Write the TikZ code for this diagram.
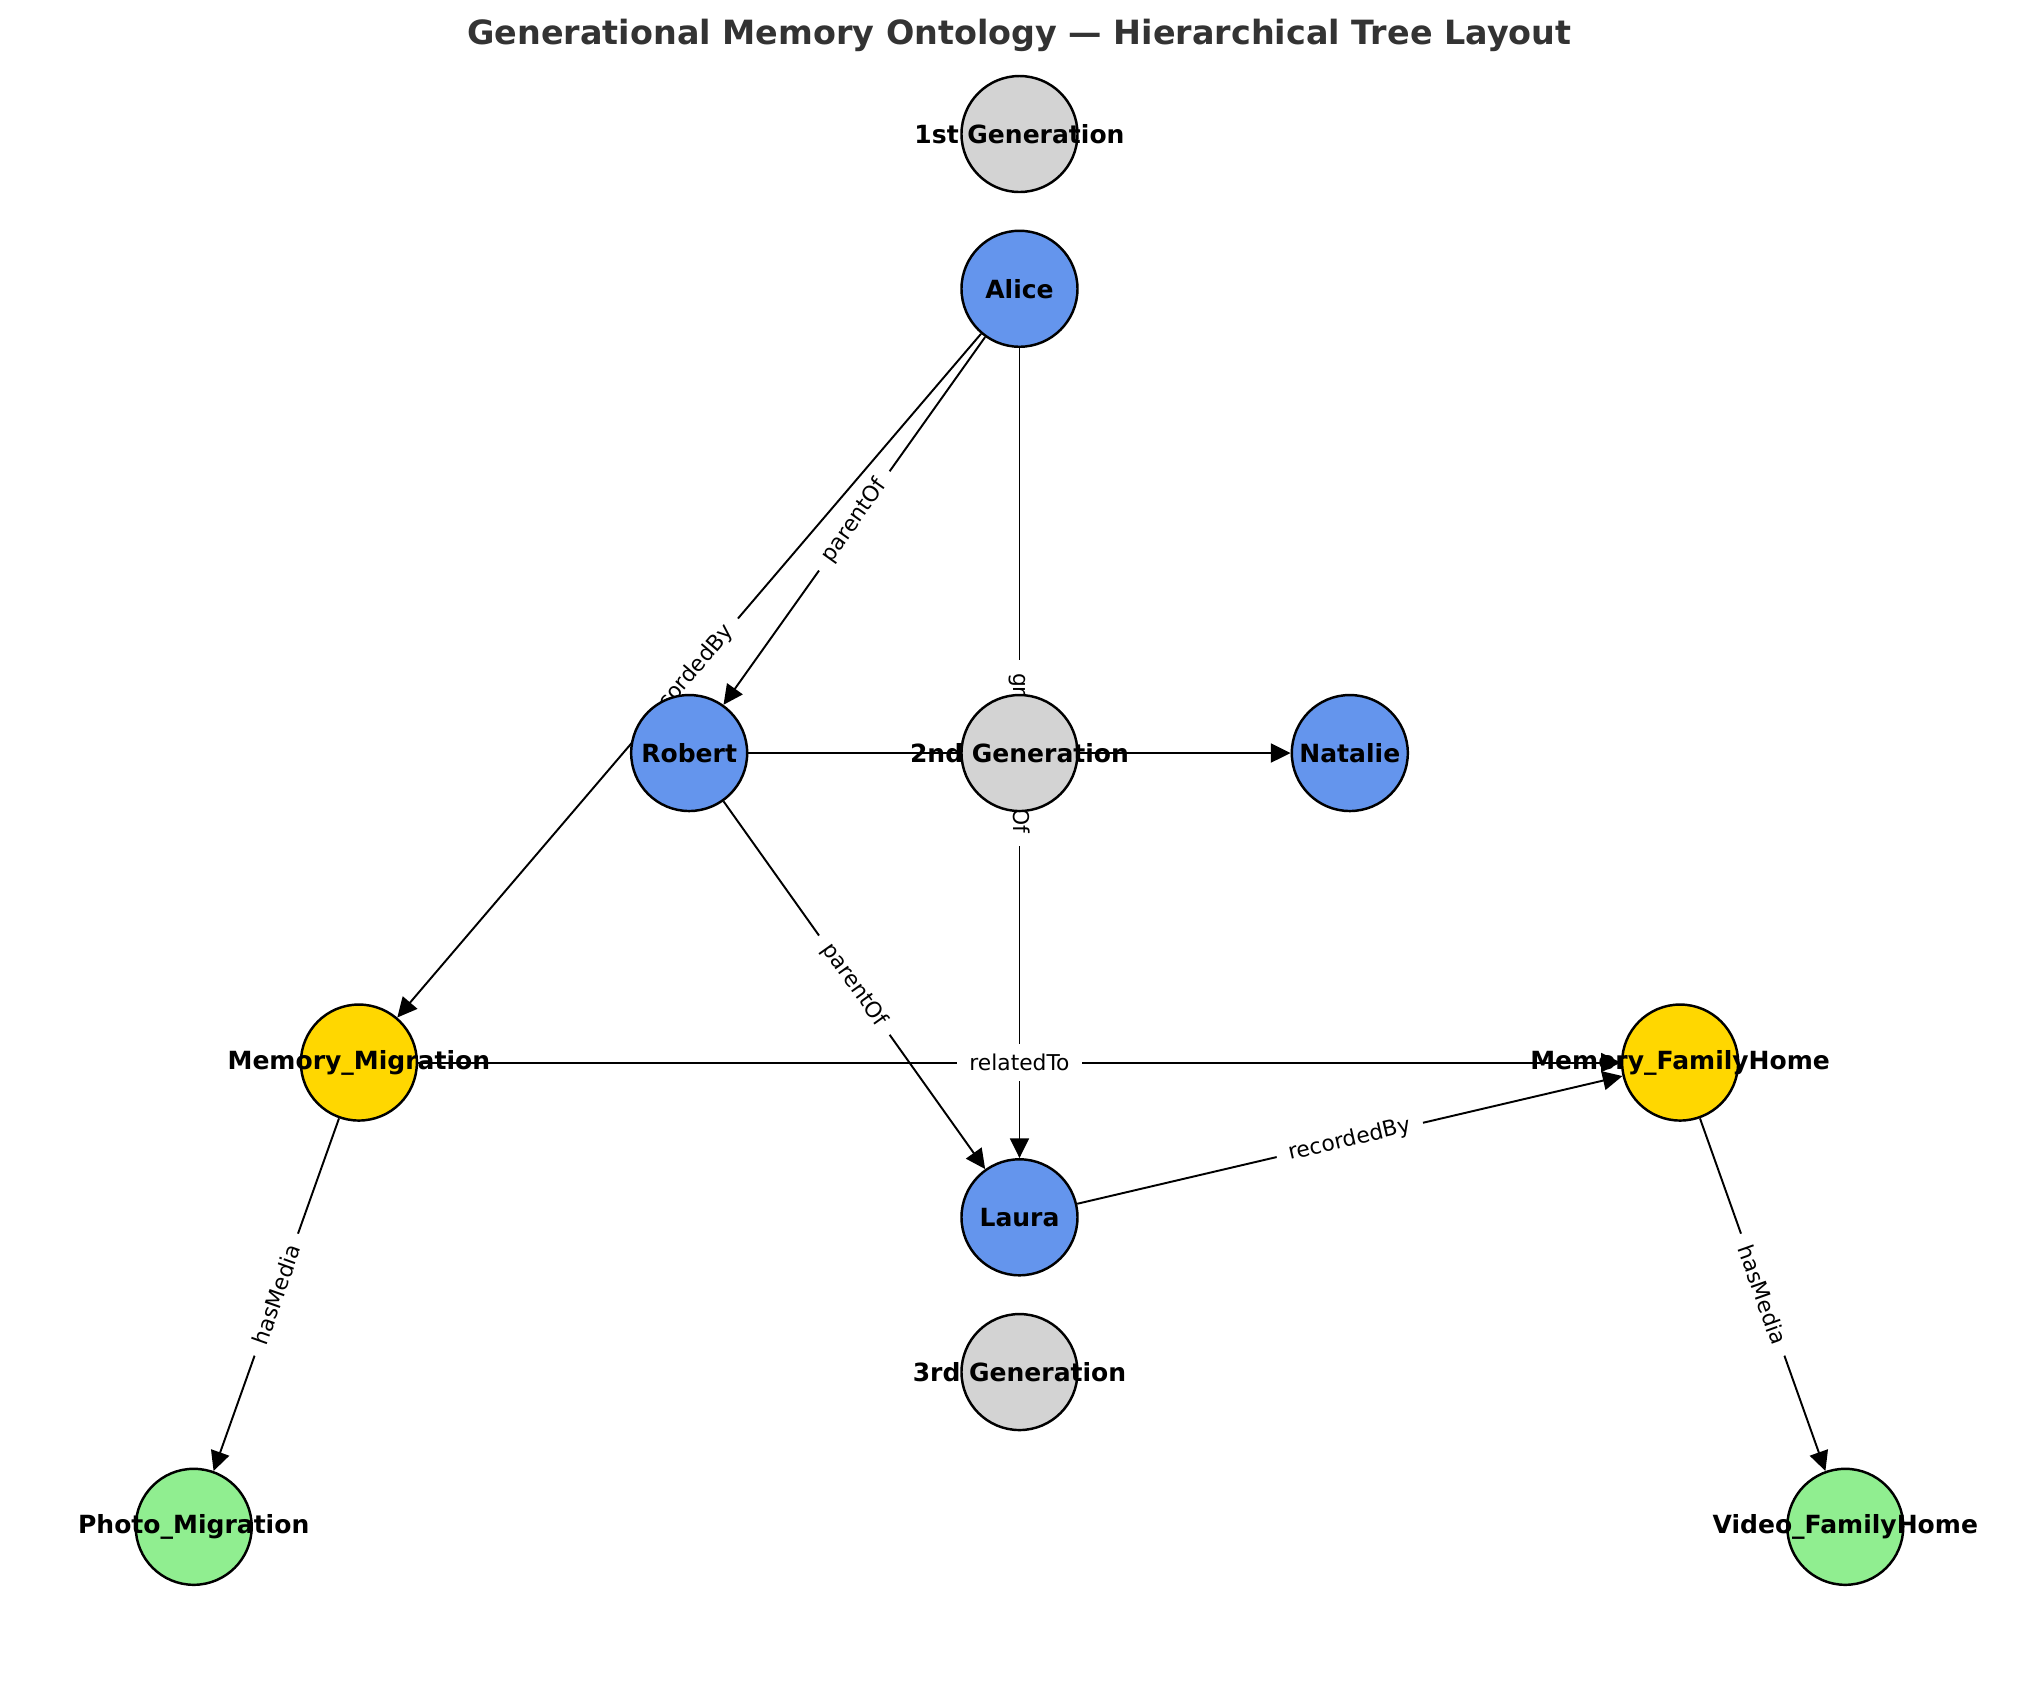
\documentclass[tikz,border=0pt]{standalone}
\usepackage{fontspec}
\usepackage{tikz}
\usetikzlibrary{arrows.meta,backgrounds}
\newfontfamily\dejavu{DejaVu Sans}
\definecolor{pblue}{HTML}{6495ED}
\definecolor{ggray}{HTML}{D3D3D3}
\definecolor{mgold}{HTML}{FFD700}
\definecolor{lgreen}{HTML}{90EE90}
\definecolor{titlegray}{HTML}{333333}

\begin{document}
\begin{tikzpicture}[x=1.6515cm, y=-1.5475cm, vertex/.style={circle,draw=black,line width=0.7pt,minimum size=1.16cm,inner sep=0pt}, person/.style={vertex,fill=pblue}, gen/.style={vertex,fill=ggray}, memory/.style={vertex,fill=mgold}, media/.style={vertex,fill=lgreen}, nlabel/.style={font=\dejavu\bfseries\fontsize{7.12}{8}\selectfont,inner sep=0pt}, edge/.style={-{Triangle[length=5.6pt,width=5.4pt]},line width=0.55pt}, elabel/.style={font=\dejavu\fontsize{6.2}{7}\selectfont,fill=white,inner xsep=3.6pt,inner ysep=2.8pt}]
  \useasboundingbox (-6.173,-0.866) rectangle (6.173,10.003);
  \node[font=\dejavu\bfseries\fontsize{9.5}{11}\selectfont,text=titlegray] (title) at (0,-0.638) {Generational Memory Ontology — Hierarchical Tree Layout};
  \node[gen,label={[nlabel]center:1st Generation}] (gen1) at (0,0) {};
  \node[person,label={[nlabel]center:Alice}] (alice) at (0,1) {};
  \node[person,label={[nlabel]center:Robert}] (robert) at (-2,4) {};
  \node[gen,label={[nlabel]center:2nd Generation}] (gen2) at (0,4) {};
  \node[person,label={[nlabel]center:Natalie}] (natalie) at (2,4) {};
  \node[memory,label={[nlabel]center:Memory\_Migration}] (memmig) at (-4,6) {};
  \node[memory,label={[nlabel]center:Memory\_FamilyHome}] (memhome) at (4,6) {};
  \node[person,label={[nlabel]center:Laura}] (laura) at (0,7) {};
  \node[gen,label={[nlabel]center:3rd Generation}] (gen3) at (0,8) {};
  \node[media,label={[nlabel]center:Photo\_Migration}] (photo) at (-5,9) {};
  \node[media,label={[nlabel]center:Video\_FamilyHome}] (video) at (5,9) {};
  \begin{scope}[on background layer]
    \draw[edge] (alice) -- node[elabel,sloped] {parentOf} (robert);
    \draw[edge] (alice) -- node[elabel,sloped] {recordedBy} (memmig);
    \draw[edge] (alice) -- node[elabel,rotate=-90] {grandparentOf} (laura);
    \draw[edge] (robert) -- (natalie);
    \draw[edge] (robert) -- node[elabel,sloped] {parentOf} (laura);
    \draw[edge] (memmig) -- node[elabel] {relatedTo} (memhome);
    \draw[edge] (laura) -- node[elabel,sloped] {recordedBy} (memhome);
    \draw[edge] (memmig) -- node[elabel,sloped] {hasMedia} (photo);
    \draw[edge] (memhome) -- node[elabel,sloped] {hasMedia} (video);
  \end{scope}
\end{tikzpicture}
\end{document}
